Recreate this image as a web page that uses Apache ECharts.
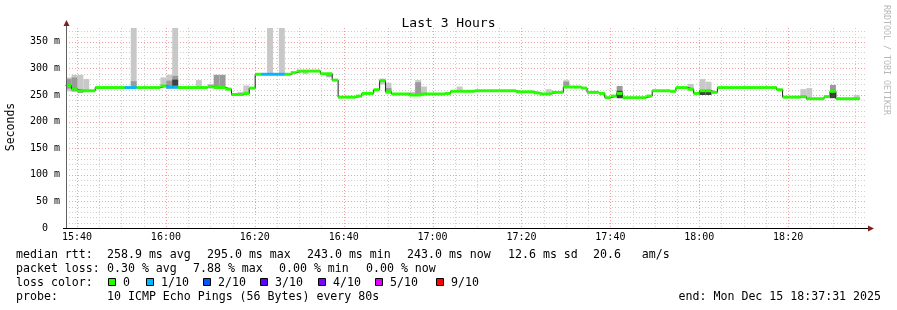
<!DOCTYPE html>
<html><head><meta charset="utf-8">
<script src="https://cdn.jsdelivr.net/npm/echarts@6/dist/echarts.min.js"></script>
<style>html,body{margin:0;padding:0;background:#fff}#c{width:897px;height:310px}</style>
</head><body><div id="c"></div>
<script>
// ---------- DATA ----------
const GRAPH_START = '15:37:31';
const GRAPH_END = '18:37:31';
const STEP_START = '15:37:25';   // start of first 80 s step
const STEP_SECONDS = 80;

// median rtt (ms) for each 80 s step
const medians = [
 268,261,258,258,258,264,264,264,264,264, 264,264,264,264,264,264,267,265,265,264,
 264,264,264,264,266,264,264,261,251,251, 253,263,289,289,289,289,289,289,292,295,
 295,295,295,290,290,278,246,246,246,248, 253,253,260,277,256,252,252,252,250,250,
 252,252,252,252,253,257,257,257,257,258, 258,258,258,258,258,258,256,256,256,254,
 252,252,255,255,265,265,265,263,255,255, 253,245,248,253,245,245,245,245,248,258,
 258,258,257,264,264,261,253,258,258,255, 264,264,264,264,264,264,264,264,264,264,
 260,246,246,246,247,243,243,243,247,257, 243,243,243,243
];
// steps with packet loss (in tenths)
const lossSteps = [10, 11, 17, 18, 33, 34, 35, 36];
const lossLevel = [1, 1, 1, 1, 1, 1, 1, 1];

// smoke (ping spread) for steps where it is visible, ms
const smokeSteps = [0,1,2,3,11,16,17,18,22,24,25,26,29,30,34,36,40,44,49,53,54,58,59,60,66,81,84,93,105,107,108,124,125,129,133];
const lightLo = [257,256,256,257,264,264,262,262,262,262,null,null,250,250,289,289,289,283,246,270,252,249,249,250,256,252,264,null,258,258,258,244,243,null,243];
const lightHi = [283,288,288,280,376,283,288,376,278,271,null,null,256,268,376,376,294,290,250,281,273,256,278,266,266,261,278,null,271,280,275,261,263,null,250];
const midLo   = [262,257,254,null,266,null,262,262,null,null,262,262,null,null,null,null,null,285,null,null,255,null,252,null,null,null,264,250,null,null,null,null,null,257,null];
const midHi   = [280,283,261,null,276,null,277,286,null,null,288,288,null,null,null,null,null,289,null,null,263,null,274,null,null,null,275,267,null,null,null,null,null,269,null];
const coreLo  = [null,null,null,null,null,null,null,264,null,null,null,null,null,null,null,null,null,null,null,null,null,null,null,null,null,null,null,244,null,250,250,null,null,244,null];
const coreHi  = [null,null,null,null,null,null,null,279,null,null,null,null,null,null,null,null,null,null,null,null,null,null,null,null,null,null,null,258,null,258,258,null,null,258,null];

// axes
const xLabels = ['15:40','16:00','16:20','16:40','17:00','17:20','17:40','18:00','18:20'];
const yLabels = [0,50,100,150,200,250,300,350];
const Y_MAX = 376;

// legend
const lossColorLabels = ['0','1/10','2/10','3/10','4/10','5/10','9/10'];
const lossColors = ['#26ff00','#00b8ff','#0059ff','#5e00ff','#7e00ff','#dd00ff','#ff0000'];
const lossColorByLevel = {0:'#26ff00',1:'#00b8ff',2:'#0059ff',3:'#5e00ff',4:'#7e00ff',5:'#dd00ff',9:'#ff0000'};
const rttStats = ['258.9 ms avg','295.0 ms max','243.0 ms min','243.0 ms now','12.6 ms sd','20.6   am/s'];
const lossStats = ['0.30 % avg','7.88 % max','0.00 % min','0.00 % now'];
const probeText = '10 ICMP Echo Pings (56 Bytes) every 80s';
const endText = 'end: Mon Dec 15 18:37:31 2025';

// ---------- BUILD ----------
function toMin(s){const p=s.split(':').map(Number);return (p[0]-15)*60+p[1]+(p[2]||0)/60;}
const t0 = toMin(STEP_START);
const stepT = k => t0 + k*STEP_SECONDS/60;
const lossOf = k => { const i = lossSteps.indexOf(k); return i<0?0:lossLevel[i]; };

const lineData = medians.map((m,k)=>[stepT(k), m]);
lineData.push([stepT(medians.length), medians[medians.length-1]]);
const bandData = medians.map((m,k)=>[stepT(k), stepT(k+1), m, lossOf(k)]);

function layer(lo, hi){
  const out=[];
  smokeSteps.forEach((k,i)=>{ if(lo[i]!=null) out.push([stepT(k), stepT(k+1), lo[i], hi[i]]); });
  return out;
}
const lightData = layer(lightLo, lightHi);
const midData = layer(midLo, midHi);
const coreData = layer(coreLo, coreHi);

const xMin = toMin(GRAPH_START), xMax = toMin(GRAPH_END);
const vGrid = [];
for (let m = 40; m < xMax; m += 5) vGrid.push([m, 0, (m % 20 === 0) ? 1 : 0]);
const hGrid = [];
for (let v = 10; v < Y_MAX; v += 10) hGrid.push([xMin, v, (v % 50 === 0) ? 1 : 0]);

const MINOR = '#cfcfcf', MAJOR = '#f0a0a0';
const FONT = 'DejaVu Sans Mono';

function rectRender(color){
  return function(params, api){
    const a = api.coord([api.value(0), api.value(3)]);
    const b = api.coord([api.value(1), api.value(2)]);
    return {type:'rect', shape:{x:a[0], y:a[1], width:b[0]-a[0], height:b[1]-a[1]}, style:{fill:color}};
  };
}

const chart = echarts.init(document.getElementById('c'), null, {renderer:'canvas'});

const graphics = [];
// axes lines + arrows
graphics.push({type:'line', z:100, shape:{x1:66.5,y1:228,x2:66.5,y2:25}, style:{stroke:'#606060',lineWidth:1}});
graphics.push({type:'line', z:100, shape:{x1:63,y1:228.5,x2:869,y2:228.5}, style:{stroke:'#000',lineWidth:1}});
graphics.push({type:'polygon', z:101, shape:{points:[[63.5,26],[69.5,26],[66.5,20]]}, style:{fill:'#7f1f1f'}});
graphics.push({type:'polygon', z:101, shape:{points:[[868,225.5],[868,231.5],[874,228.5]]}, style:{fill:'#7f1f1f'}});
// Seconds
graphics.push({type:'text', x:11, y:127, rotation:Math.PI/2, style:{text:'Seconds', x:0, y:0, align:'center', verticalAlign:'middle', font:'11.5px "DejaVu Sans Mono"', fill:'#000'}});
// right credit
graphics.push({type:'text', x:886, y:60, rotation:-Math.PI/2, style:{text:'RRDTOOL / TOBI OETIKER', x:0, y:0, align:'center', verticalAlign:'middle', font:'8.3px "DejaVu Sans Mono"', fill:'#b8b8b8'}});
// legend text
function txt(s, x, y, align){ graphics.push({type:'text', style:{text:s, x:x, y:y, align:align||'left', verticalAlign:'middle', font:'11.6px "DejaVu Sans Mono"', fill:'#000'}}); }
const L1=254.5, L2=268.5, L3=282.5, L4=296.5;
txt('median rtt:', 16, L1);
[107,207,307,407,508,593].forEach((x,i)=>txt(rttStats[i], x, L1));
txt('packet loss:', 16, L2);
[107,193,279,366].forEach((x,i)=>txt(lossStats[i], x, L2));
txt('loss color:', 16, L3);
[108,146,203,260,318,375,436].forEach((x,i)=>{
  graphics.push({type:'rect', shape:{x:x+0.5, y:278.5, width:7, height:7}, style:{fill:lossColors[i], stroke:'#000', lineWidth:1}});
  txt(lossColorLabels[i], x+15, L3);
});
txt('probe:', 16, L4);
txt(probeText, 107, L4);
txt(endText, 881, L4, 'right');

const option = {
  animation:false,
  backgroundColor:'#ffffff',
  title:{text:'Last 3 Hours', left:'center', top:12, textStyle:{fontFamily:FONT, fontSize:13, fontWeight:'normal', color:'#000'}},
  grid:{left:66, right:31, top:28, bottom:82, containLabel:false},
  xAxis:{type:'value', min:xMin, max:xMax,
    axisLine:{show:false}, axisTick:{show:false}, splitLine:{show:false},
    axisLabel:{customValues:xLabels.map(toMin), margin:4, fontFamily:FONT, fontSize:10, color:'#000',
      formatter:(v)=>{ for (const l of xLabels) if (Math.abs(toMin(l)-v)<1e-6) return l; return ''; }}},
  yAxis:{type:'value', min:0, max:Y_MAX,
    axisLine:{show:false}, axisTick:{show:false}, splitLine:{show:false},
    axisLabel:{customValues:yLabels, margin:6, fontFamily:FONT, fontSize:10, color:'#000',
      formatter:(v)=> v===0 ? '0  ' : (v+' m')}},
  graphic:graphics,
  series:[
    {type:'custom', z:1, silent:true, clip:true, data:vGrid,
      renderItem:(params, api)=>{ const cs=params.coordSys; const x=Math.round(api.coord([api.value(0),0])[0])+0.5;
        return {type:'line', shape:{x1:x,y1:cs.y,x2:x,y2:cs.y+cs.height}, style:{stroke:api.value(2)?MAJOR:MINOR, lineWidth:1, lineDash:[1,2]}}; }},
    {type:'custom', z:1, silent:true, clip:true, data:hGrid,
      renderItem:(params, api)=>{ const cs=params.coordSys; const y=Math.round(api.coord([api.value(0),api.value(1)])[1])+0.5;
        return {type:'line', shape:{x1:cs.x,y1:y,x2:cs.x+cs.width,y2:y}, style:{stroke:api.value(2)?MAJOR:MINOR, lineWidth:1, lineDash:[1,2]}}; }},
    {type:'custom', z:2, silent:true, clip:true, data:lightData, renderItem:rectRender('#c8c8c8')},
    {type:'custom', z:3, silent:true, clip:true, data:midData, renderItem:rectRender('#9a9a9a')},
    {type:'custom', z:4, silent:true, clip:true, data:coreData, renderItem:rectRender('#404040')},
    {type:'line', z:5, silent:true, step:'end', data:lineData, showSymbol:false, clip:true,
      lineStyle:{color:'#202020', width:1}},
    {type:'custom', z:6, silent:true, clip:true, data:bandData,
      renderItem:(params, api)=>{ const a=api.coord([api.value(0), api.value(2)]); const b=api.coord([api.value(1), api.value(2)]);
        return {type:'rect', shape:{x:a[0], y:a[1]-1.5, width:b[0]-a[0], height:3}, style:{fill:lossColorByLevel[api.value(3)]}}; }}
  ]
};
chart.setOption(option);
</script>
</body></html>
